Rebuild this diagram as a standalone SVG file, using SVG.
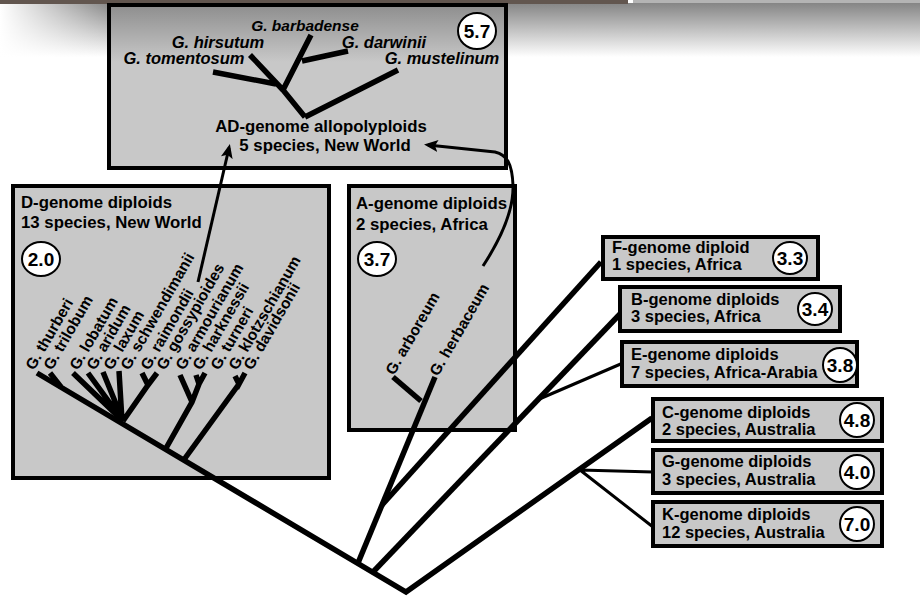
<svg xmlns="http://www.w3.org/2000/svg" width="920" height="599" viewBox="0 0 920 599">
<style>
.box{fill:#c8c8c8;stroke:#000;stroke-width:4}
.lbl{font-family:"Liberation Sans",Arial,sans-serif;font-weight:bold;font-size:16.8px;fill:#000}
.rl{font-family:"Liberation Sans",Arial,sans-serif;font-weight:bold;font-size:16.5px;fill:#000}
.sp{font-family:"Liberation Sans",Arial,sans-serif;font-weight:bold;font-size:15.5px;fill:#000}
.spi{font-family:"Liberation Sans",Arial,sans-serif;font-weight:bold;font-style:italic;font-size:16.5px;fill:#000}
.cir{fill:#fff;stroke:#000;stroke-width:2}
.num{font-family:"Liberation Sans",Arial,sans-serif;font-weight:bold;font-size:19px;fill:#000;text-anchor:middle}
.br{fill:none;stroke:#000;stroke-width:5.5;stroke-linecap:butt}
.thin{fill:none;stroke:#000;stroke-width:3}
</style>
<defs>
<linearGradient id="shadow" x1="0" y1="0" x2="0" y2="1">
<stop offset="0" stop-color="#858585"/>
<stop offset="1" stop-color="#ffffff"/>
</linearGradient>
<linearGradient id="leftfade" x1="0" y1="0" x2="1" y2="0">
<stop offset="0" stop-color="#ffffff" stop-opacity="1"/>
<stop offset="1" stop-color="#ffffff" stop-opacity="0"/>
</linearGradient>
<linearGradient id="adfill" gradientUnits="userSpaceOnUse" x1="0" y1="5" x2="0" y2="62">
<stop offset="0" stop-color="#8e8e8e"/>
<stop offset="1" stop-color="#c8c8c8"/>
</linearGradient>
<marker id="ah" viewBox="0 0 14 12" refX="10" refY="6" markerWidth="14" markerHeight="12" markerUnits="userSpaceOnUse" orient="auto">
<path d="M0,0 L14,6 L0,12 L3,6 z" fill="#000"/>
</marker>
</defs>
<rect x="0" y="0" width="920" height="599" fill="#fff"/>
<rect x="0" y="3" width="920" height="54" fill="url(#shadow)"/>
<rect x="0" y="3" width="110" height="54" fill="url(#leftfade)"/>
<rect x="0" y="0" width="628" height="4" fill="#62564f"/>
<rect x="633" y="0" width="287" height="3" fill="#b4b4b4"/>

<g id="node-AD">
<rect x="109" y="5" width="397" height="163" fill="url(#adfill)" stroke="#000" stroke-width="4"/>
<path class="br" d="M305,117 L398,70 M305,117 L283,90 L311,35 M302,61 L348,51 M283,90 L250,55 M276,84 L213,72"/>
<text class="spi" x="305" y="31" text-anchor="middle" style="font-size:15.5px">G. barbadense</text>
<text class="spi" x="218" y="48" text-anchor="middle">G. hirsutum</text>
<text class="spi" x="384" y="48" text-anchor="middle">G. darwinii</text>
<text class="spi" x="184" y="64" text-anchor="middle">G. tomentosum</text>
<text class="spi" x="442" y="64" text-anchor="middle">G. mustelinum</text>
<text class="lbl" x="321" y="132" text-anchor="middle">AD-genome allopolyploids</text>
<text class="lbl" x="325" y="151" text-anchor="middle">5 species, New World</text>
<ellipse class="cir" cx="477" cy="31" rx="19" ry="18"/>
<text class="num" x="477" y="38">5.7</text>
</g>

<g id="node-D">
<rect class="box" x="13" y="186" width="316" height="292"/>
<text class="lbl" x="21" y="208">D-genome diploids</text>
<text class="lbl" x="21" y="228">13 species, New World</text>
<ellipse class="cir" cx="41" cy="259" rx="19" ry="17"/>
<text class="num" x="41" y="266">2.0</text>
<path class="br" d="M50,373 L61,387 M73,373 L123,421 M88,373 L123,421 M103,372 L123,421 M119,371 L122,421 M142,373 L148,385 L157,373 M148,385 L123,421 M180,375 L192,402 M196,375 L199,384 L205,373 M199,384 L192,402 L165,450 M235,376 L239,384 L245,373 M239,384 L183,461"/>
<g class="sp">
<text transform="translate(34,371) rotate(-60)">G. thurberi</text>
<text transform="translate(52,371) rotate(-60)">G. trilobum</text>
<text transform="translate(78,371) rotate(-60)">G. lobatum</text>
<text transform="translate(95,371) rotate(-60)">G. aridum</text>
<text transform="translate(112,371) rotate(-60)">G. laxum</text>
<text transform="translate(129,371) rotate(-60)">G. schwendimanii</text>
<text transform="translate(149,371) rotate(-60)">G. raimondii</text>
<text transform="translate(165,371) rotate(-60)">G. gossypioides</text>
<text transform="translate(184,371) rotate(-60)">G. armourianum</text>
<text transform="translate(201,371) rotate(-60)">G. harknessii</text>
<text transform="translate(219,371) rotate(-60)">G. turneri</text>
<text transform="translate(237,371) rotate(-60)">G. klotzschianum</text>
<text transform="translate(252,371) rotate(-60)">G. davidsonii</text>
</g>
</g>

<g id="node-A">
<rect class="box" x="349" y="186" width="166" height="244"/>
<text class="lbl" x="356" y="209">A-genome diploids</text>
<text class="lbl" x="356" y="230">2 species, Africa</text>
<ellipse class="cir" cx="377" cy="259" rx="19" ry="17"/>
<text class="num" x="377" y="266">3.7</text>
<path class="br" d="M393,377 L421,401"/>
<text class="sp" transform="translate(394,376) rotate(-60)">G. arboreum</text>
<text class="sp" transform="translate(438,377) rotate(-60)">G. herbaceum</text>
</g>

<g id="node-F">
<rect class="box" x="603" y="237" width="215" height="42"/>
<text class="rl" x="612" y="253">F-genome diploid</text>
<text class="rl" x="612" y="270">1 species, Africa</text>
<ellipse class="cir" cx="790" cy="258" rx="17" ry="16"/>
<text class="num" x="790" y="265">3.3</text>
</g>
<g id="node-B">
<rect class="box" x="620" y="287" width="220" height="44"/>
<text class="rl" x="631" y="305">B-genome diploids</text>
<text class="rl" x="631" y="322">3 species, Africa</text>
<ellipse class="cir" cx="815" cy="309" rx="17" ry="16"/>
<text class="num" x="815" y="316">3.4</text>
</g>
<g id="node-E">
<rect class="box" x="622" y="342" width="235" height="44"/>
<text class="rl" x="631" y="360">E-genome diploids</text>
<text class="rl" x="631" y="378">7 species, Africa-Arabia</text>
<ellipse class="cir" cx="840" cy="365" rx="17" ry="17"/>
<text class="num" x="840" y="372">3.8</text>
</g>
<g id="node-C">
<rect class="box" x="653" y="399" width="229" height="42"/>
<text class="rl" x="662" y="418">C-genome diploids</text>
<text class="rl" x="662" y="435">2 species, Australia</text>
<ellipse class="cir" cx="857" cy="420" rx="17" ry="17"/>
<text class="num" x="857" y="427">4.8</text>
</g>
<g id="node-G">
<rect class="box" x="653" y="450" width="229" height="43"/>
<text class="rl" x="662" y="467">G-genome diploids</text>
<text class="rl" x="662" y="485">3 species, Australia</text>
<ellipse class="cir" cx="857" cy="472" rx="17" ry="17"/>
<text class="num" x="857" y="479">4.0</text>
</g>
<g id="node-K">
<rect class="box" x="653" y="502" width="229" height="44"/>
<text class="rl" x="662" y="520">K-genome diploids</text>
<text class="rl" x="662" y="538">12 species, Australia</text>
<ellipse class="cir" cx="857" cy="524" rx="17" ry="17"/>
<text class="num" x="857" y="531">7.0</text>
</g>

<g id="connectors">
<path class="br" d="M37,373 L406,592 L652,418"/>
<path class="br" d="M358,563 L435,377"/>
<path class="br" d="M382,505 L601,262"/>
<path class="br" d="M373,572 L620,314"/>
<path class="thin" d="M537,400 L623,363"/>
<path class="thin" d="M580,470 L653,472 M580,470 L653,527"/>
<path class="thin" d="M198,282 L229,148" marker-end="url(#ah)"/>
<path class="thin" d="M483,266 C500,240 514,212 513,185 C512,163 507,155 495,152 L428,145" marker-end="url(#ah)"/>
</g>
</svg>
